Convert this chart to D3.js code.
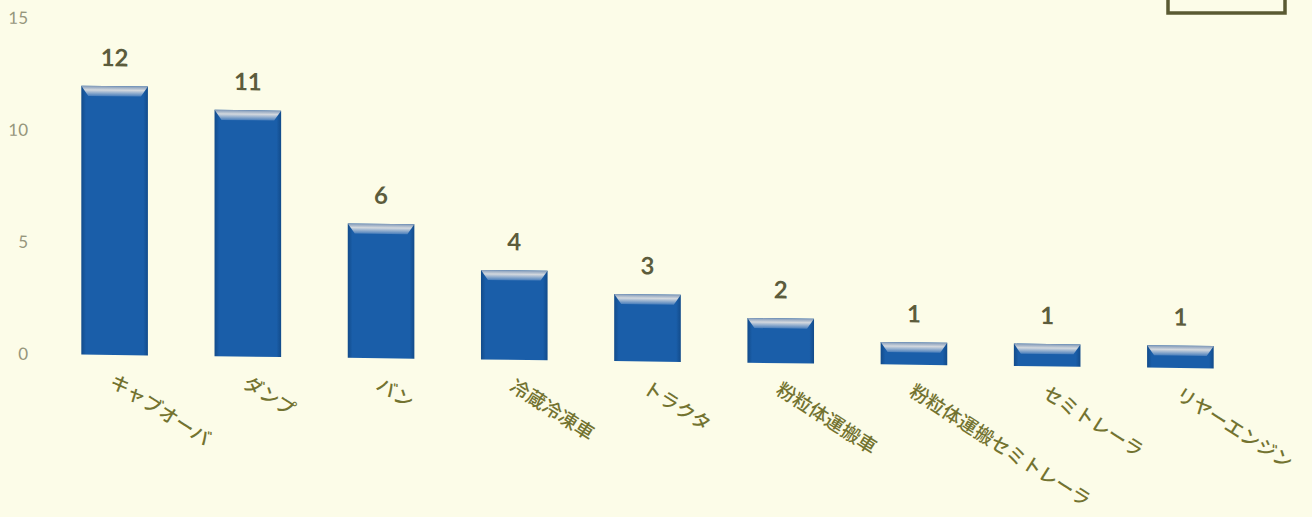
<!DOCTYPE html>
<html>
<head>
<meta charset="utf-8">
<script src="https://cdn.jsdelivr.net/npm/d3@7"></script>
<style>
    body { margin: 0; background: #fcfce8; }
    #chart { width: 1312px; height: 517px; }
</style>
</head>
<body>
<div id="chart"></div>
<script>
// categories and values
const categories = ["キャブオーバ", "ダンプ", "バン", "冷蔵冷凍車", "トラクタ", "粉粒体運搬車", "粉粒体運搬セミトレーラ", "セミトレーラ", "リヤーエンジン"];
const counts = [12, 11, 6, 4, 3, 2, 1, 1, 1];
const yTicks = [0, 5, 10, 15];

class CountBarChart {
    constructor(parentElement) {
        this.parentElement = parentElement
        this.displayData = categories.map((c, i) => ({category: c, count: counts[i]}))
        this.initVis()
    }

    initVis() {
        let vis = this

        vis.width = 1312;
        vis.height = 517;

        vis.svg = d3.select("#" + vis.parentElement).append("svg")
            .attr("width", vis.width)
            .attr("height", vis.height);

        vis.svg.append("rect")
            .attr("width", vis.width)
            .attr("height", vis.height)
            .attr("fill", "#fcfce8");

        // gradients for the bevelled bars
        let defs = vis.svg.append("defs");
        let body = defs.append("linearGradient").attr("id", "barBody")
            .attr("x1", 0).attr("x2", 1).attr("y1", 0).attr("y2", 0);
        body.append("stop").attr("offset", "0%").attr("stop-color", "#124b8a");
        body.append("stop").attr("offset", "7%").attr("stop-color", "#1a5ea9");
        body.append("stop").attr("offset", "93%").attr("stop-color", "#1a5ea9");
        body.append("stop").attr("offset", "100%").attr("stop-color", "#124b8a");
        let bevel = defs.append("linearGradient").attr("id", "barBevel")
            .attr("x1", 0).attr("x2", 0).attr("y1", 0).attr("y2", 1);
        bevel.append("stop").attr("offset", "0%").attr("stop-color", "#7f98b8");
        bevel.append("stop").attr("offset", "40%").attr("stop-color", "#d3d8de");
        bevel.append("stop").attr("offset", "100%").attr("stop-color", "#4a7fbc");

        // the scan is slightly tilted
        vis.g = vis.svg.append("g")
            .attr("transform", "skewY(0.7)");

        vis.x = d3.scaleBand()
            .domain(categories)
            .range([48, 1247])
            .paddingInner(0.5)
            .paddingOuter(0.25);

        vis.y = d3.scaleLinear()
            .domain([0, 15])
            .range([353.6, 17.6]);

        // y axis labels only, no line
        let yAxis = d3.axisLeft(vis.y).tickValues(yTicks).tickSize(0).tickPadding(0);
        vis.g.append("g")
            .attr("transform", "translate(28, 0)")
            .call(yAxis)
            .call(g => g.select(".domain").remove())
            .selectAll("text")
            .attr("font-family", "Lato, 'Open Sans', sans-serif")
            .attr("font-size", 17)
            .attr("fill", "#96967c");

        // x axis labels, rotated
        let xAxis = d3.axisBottom(vis.x).tickSize(0).tickPadding(0);
        vis.g.append("g")
            .attr("transform", `translate(0, ${vis.y(0)})`)
            .call(xAxis)
            .call(g => g.select(".domain").remove())
            .selectAll("text")
            .attr("font-family", "'Noto Sans CJK JP', sans-serif")
            .attr("font-size", 19)
            .attr("font-weight", 500)
            .attr("fill", "#737330")
            .attr("dy", 0)
            .attr("text-anchor", "start")
            .attr("transform", "translate(-6, 30) rotate(32)");

        vis.updateVis();
    }

    updateVis() {
        let vis = this;
        let bw = vis.x.bandwidth();

        let bars = vis.g.selectAll(".bar-group")
            .data(vis.displayData)
            .enter().append("g")
            .attr("class", "bar-group");

        bars.append("rect")
            .attr("x", d => vis.x(d.category))
            .attr("y", d => vis.y(d.count))
            .attr("width", bw)
            .attr("height", d => vis.y(0) - vis.y(d.count))
            .attr("fill", "url(#barBody)");

        // bevel strip on top
        bars.append("path")
            .attr("d", d => {
                let x0 = vis.x(d.category), y0 = vis.y(d.count), h = 10;
                return `M${x0},${y0} L${x0 + bw},${y0} L${x0 + bw - 7},${y0 + h} L${x0 + 7},${y0 + h} Z`;
            })
            .attr("fill", "url(#barBevel)");

        bars.append("text")
            .attr("x", d => vis.x(d.category) + bw / 2)
            .attr("y", d => vis.y(d.count) - 20)
            .attr("text-anchor", "middle")
            .attr("font-family", "Lato, 'Open Sans', sans-serif")
            .attr("font-weight", "bold")
            .attr("font-size", 24)
            .attr("fill", "#5c5c3c")
            .text(d => d.count);

        // corner of a box cut off at the top right
        vis.svg.append("rect")
            .attr("x", 1168)
            .attr("y", -12)
            .attr("width", 117)
            .attr("height", 25)
            .attr("fill", "none")
            .attr("stroke", "#5a5a32")
            .attr("stroke-width", 3.5);
    }
}

new CountBarChart("chart");
</script>
</body>
</html>
